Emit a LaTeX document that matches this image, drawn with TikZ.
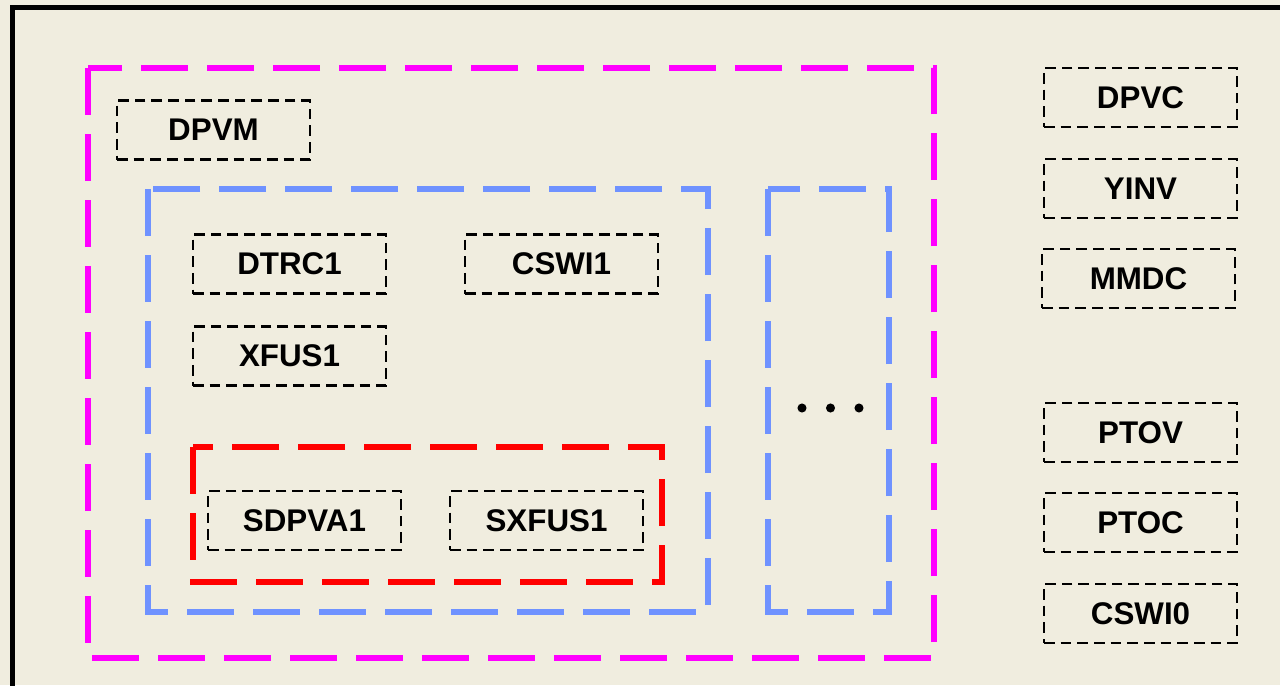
\documentclass[tikz,border=0pt]{standalone}
\usepackage{fontspec}
\setmainfont{Liberation Sans}
\usepackage{xcolor}
\usepackage{tikz}
\definecolor{bgtan}{RGB}{240,237,223}
\definecolor{lnblue}{RGB}{111,146,255}
\definecolor{lnmagenta}{RGB}{255,0,255}
\definecolor{lnred}{RGB}{255,0,0}
\tikzset{
        lnbox/.style={draw=black,line width=2pt,dash pattern=on 8pt off 4.5pt,
                minimum width=144.75pt,minimum height=44.25pt,inner sep=0pt,
                font=\fontsize{23.5}{28}\selectfont\bfseries},
        grpbox/.style={line width=4pt,dash pattern=on 35.25pt off 14.25pt}
}

\begin{document}
\begin{tikzpicture}[x=0.75pt,y=-0.75pt]
        \useasboundingbox (0,0) rectangle (1280,685);
        \fill [bgtan] (0,0) rectangle (1280,685);
        \draw [black,line width=3.75pt] (12,690) -- (12,7.5) -- (1290,7.5);
        \draw [grpbox,lnmagenta] (88,68) rectangle (934,658);
        \draw [grpbox,lnblue] (148,189) rectangle (708,612);
        \draw [grpbox,lnblue] (768,189) rectangle (889,612);
        \draw [grpbox,lnred] (193,447) rectangle (662,582);
        \node [lnbox] (dpvm) at (213.5,130) {DPVM};
        \node [lnbox] (dtrc) at (289.5,264) {DTRC1};
        \node [lnbox] (cswi) at (561.5,264) {CSWI1};
        \node [lnbox] (xfus) at (289.5,356) {XFUS1};
        \node [lnbox] (sdpva) at (304.5,520.5) {SDPVA1};
        \node [lnbox] (sxfus) at (546.5,520.5) {SXFUS1};
        \fill [black] (802,408) circle (3.4pt);
        \fill [black] (830.5,408) circle (3.4pt);
        \fill [black] (859,408) circle (3.4pt);
        \node [lnbox] (dpvc) at (1140.5,97.5) {DPVC};
        \node [lnbox] (yinv) at (1140.5,188.5) {YINV};
        \node [lnbox] (mmdc) at (1138.5,278.5) {MMDC};
        \node [lnbox] (ptov) at (1140.5,432.5) {PTOV};
        \node [lnbox] (ptoc) at (1140.5,522.5) {PTOC};
        \node [lnbox] (cswio) at (1140.5,613.5) {CSWI0};
\end{tikzpicture}
\end{document}
